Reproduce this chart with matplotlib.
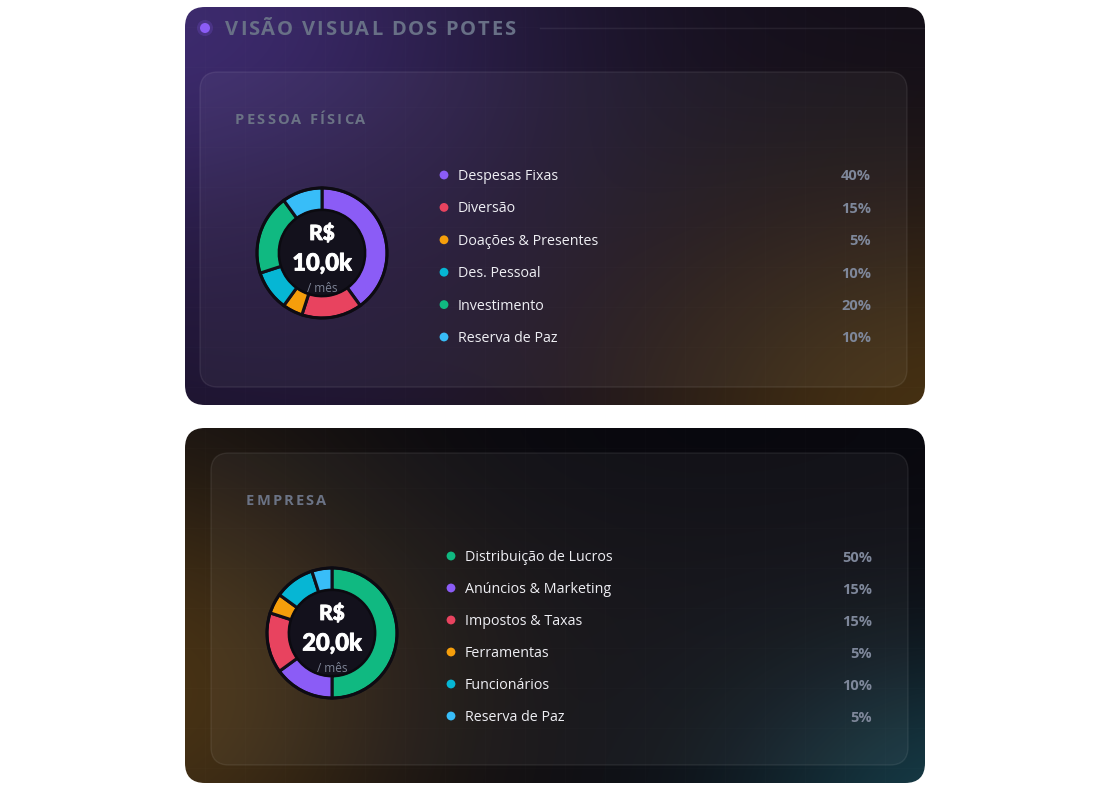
import numpy as np
import matplotlib
matplotlib.use("Agg")
import matplotlib.pyplot as plt
import matplotlib.patheffects as pe
from matplotlib.patches import FancyBboxPatch, Circle
from matplotlib.colors import to_rgb
from matplotlib.textpath import TextPath
from matplotlib.font_manager import FontProperties

# ---------------- data ----------------
title = "VISÃO VISUAL DOS POTES"

pf_title = "PESSOA FÍSICA"
pf_categories = ["Despesas Fixas", "Diversão", "Doações & Presentes",
                 "Des. Pessoal", "Investimento", "Reserva de Paz"]
pf_values = [40, 15, 5, 10, 20, 10]
pf_colors = ["#8b5cf6", "#e8435f", "#f59e0b", "#06b6d4", "#10b981", "#38bdf8"]
pf_total = "10,0k"

emp_title = "EMPRESA"
emp_categories = ["Distribuição de Lucros", "Anúncios & Marketing", "Impostos & Taxas",
                  "Ferramentas", "Funcionários", "Reserva de Paz"]
emp_values = [50, 15, 15, 5, 10, 5]
emp_colors = ["#10b981", "#8b5cf6", "#e8435f", "#f59e0b", "#06b6d4", "#38bdf8"]
emp_total = "20,0k"

# ---------------- figure ----------------
W, H = 1110, 800
fig = plt.figure(figsize=(W / 100, H / 100), dpi=100)
fig.patch.set_facecolor("white")
bg = fig.add_axes([0, 0, 1, 1])
bg.set_xlim(0, W)
bg.set_ylim(H, 0)
bg.axis("off")

FONT = "Open Sans"


def gradient_card(x0, y0, x1, y1, base, blobs, radius=20):
    w, h = int(x1 - x0), int(y1 - y0)
    yy, xx = np.mgrid[0:h, 0:w]
    img = np.ones((h, w, 3)) * np.array(to_rgb(base))
    for (cx, cy, sx, sy, col, strength) in blobs:
        d = np.exp(-(((xx + x0 - cx) / sx) ** 2 + ((yy + y0 - cy) / sy) ** 2))
        a = (d * strength)[..., None]
        img = img * (1 - a) + np.array(to_rgb(col)) * a
    patch = FancyBboxPatch((x0, y0), x1 - x0, y1 - y0,
                           boxstyle=f"round,pad=0,rounding_size={radius}",
                           facecolor="none", edgecolor="none", zorder=1)
    bg.add_patch(patch)
    im = bg.imshow(img, extent=(x0, x1, y1, y0), origin="upper",
                   zorder=1, interpolation="bilinear", aspect="auto")
    im.set_clip_path(patch)
    # faint grid
    for gx in np.arange(x0 + 20, x1, 40):
        bg.plot([gx, gx], [y0, y1], color="white", alpha=0.01, lw=1,
                zorder=1.5, clip_path=patch)
    for gy in np.arange(y0 + 20, y1, 40):
        bg.plot([x0, x1], [gy, gy], color="white", alpha=0.01, lw=1,
                zorder=1.5, clip_path=patch)


def inner_panel(x0, y0, x1, y1):
    p = FancyBboxPatch((x0, y0), x1 - x0, y1 - y0,
                       boxstyle="round,pad=0,rounding_size=18",
                       facecolor=(1, 1, 1, 0.045), edgecolor=(1, 1, 1, 0.08),
                       lw=1, zorder=2)
    bg.add_patch(p)


def spaced_text(x, y, s, size, color, spacing, weight="bold", family=FONT):
    fp = FontProperties(family=family, weight=weight, size=size)
    px = x
    ref = TextPath((0, 0), "|", prop=fp).get_extents().x1
    for ch in s:
        if ch != " ":
            bg.text(px, y, ch, fontproperties=fp, color=color, va="center",
                    ha="left", zorder=5)
            tp = TextPath((0, 0), ch + "|", prop=fp)
            wpt = tp.get_extents().x1 - ref
            px += wpt * 100 / 72 + spacing
        else:
            px += size * 0.26 * 100 / 72 + spacing


# card 1
gradient_card(185, 7, 925, 405, "#110d17",
              [(170, 40, 380, 280, "#402d74", 0.95),
               (300, 330, 260, 200, "#25183f", 0.6),
               (950, 420, 330, 230, "#4b3412", 0.9)])
# card 2
gradient_card(185, 428, 925, 783, "#0d0c12",
              [(150, 690, 260, 260, "#4a3415", 0.95),
               (970, 810, 230, 160, "#17404c", 0.9),
               (700, 430, 400, 120, "#06060c", 0.6)])

inner_panel(200, 72, 907, 387)
inner_panel(211, 453, 908, 765)

# header
bg.add_patch(Circle((205, 28), 5, facecolor="#8b5cf6", edgecolor="none", zorder=5))
bg.add_patch(Circle((205, 28), 8, facecolor="#8b5cf6", alpha=0.2, edgecolor="none", zorder=4))
spaced_text(225, 30, title, 14.5, "#687086", 1.8)
bg.plot([540, 925], [28, 28], color="white", alpha=0.07, lw=1, zorder=3)

spaced_text(235, 120, pf_title, 10.5, "#6b7385", 2.2)
spaced_text(246, 501, emp_title, 10.5, "#6b7385", 2.2)


def donut(cx, cy, values, colors, total):
    r_out = 65
    size = 2 * r_out * 1.05
    ax = fig.add_axes([(cx - size / 2) / W, 1 - (cy + size / 2) / H, size / W, size / H])
    ax.pie(values, colors=colors, startangle=90, counterclock=False,
           radius=1.0, wedgeprops=dict(width=0.34, edgecolor="#120f18", linewidth=2.2))
    ax.add_patch(Circle((0, 0), 0.66, facecolor="#13111c", edgecolor="#0b0a10", lw=1.5, zorder=3))
    ax.add_patch(Circle((0, 0), 1.0, facecolor="none", edgecolor="#0d0b12", lw=2.0, zorder=4))
    ax.set_xlim(-1.05, 1.05)
    ax.set_ylim(-1.05, 1.05)
    ax.set_aspect("equal")
    ax.axis("off")
    thick = [pe.withStroke(linewidth=0.6, foreground="white")]
    ax.text(0, 20 / r_out, "R$", color="white", fontsize=15, fontweight="black",
            family="Lato", ha="center", va="center", zorder=6, path_effects=thick)
    ax.text(0, -10 / r_out, total, color="white", fontsize=17, fontweight="black",
            family="Lato", ha="center", va="center", zorder=6, path_effects=thick)
    ax.text(0, -35 / r_out, "/ mês", color="#7d8395", fontsize=8.5,
            family=FONT, ha="center", va="center", zorder=6)


def legend(x_dot, x_pct, y0, dy, cats, vals, cols):
    for i, (c, v, col) in enumerate(zip(cats, vals, cols)):
        y = y0 + i * dy
        bg.add_patch(Circle((x_dot, y), 4.4, facecolor=col, edgecolor="none", zorder=5))
        bg.text(x_dot + 14, y + 1.5, c, color="#eeeef3", fontsize=10.3, family=FONT,
                ha="left", va="center", zorder=5)
        bg.text(x_pct, y + 1.5, f"{v}%", color="#7e879a", fontsize=10.5, family=FONT,
                fontweight="bold", ha="right", va="center", zorder=5)


donut(322, 253, pf_values, pf_colors, pf_total)
donut(332, 633, emp_values, emp_colors, emp_total)
legend(444, 871, 175, 32.4, pf_categories, pf_values, pf_colors)
legend(451, 872, 556, 32.0, emp_categories, emp_values, emp_colors)

fig.savefig("out.png", dpi=100, facecolor="white")
